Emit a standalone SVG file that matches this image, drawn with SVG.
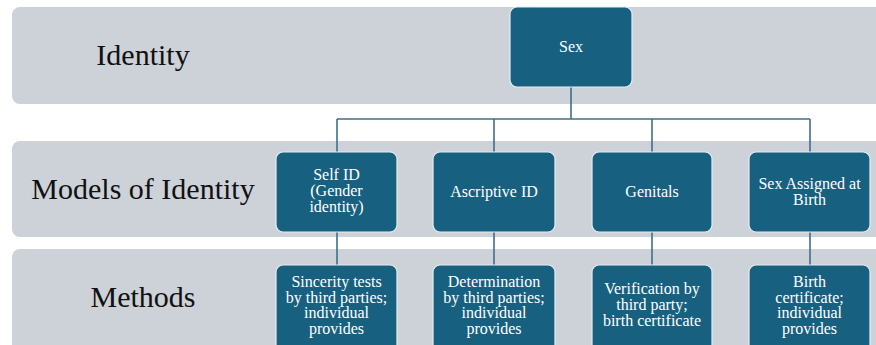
<svg xmlns="http://www.w3.org/2000/svg" width="876" height="345" viewBox="0 0 876 345">
  <style>
    .band { fill: #cdd1d8; }
    .label { font-size: 30px; fill: #111111; text-anchor: middle; }
    .node rect { fill: #17607f; stroke: #e6edf1; stroke-width: 1.2; }
    .node text { font-size: 16px; fill: #ffffff; text-anchor: middle; }
    .conn { fill: none; stroke: #3f6f89; stroke-width: 1.6; }
  </style>

  <g font-family="'Liberation Serif', 'Times New Roman', Times, serif">
  <!-- background bands -->
  <g id="bands">
    <rect class="band" x="12" y="7" width="880" height="97" rx="8"/>
    <rect class="band" x="12" y="141" width="880" height="96" rx="8"/>
    <rect class="band" x="12" y="249" width="880" height="110" rx="8"/>
    <text class="label" x="143" y="65">Identity</text>
    <text class="label" x="143" y="199">Models of Identity</text>
    <text class="label" x="143" y="307">Methods</text>
  </g>

  <!-- connectors -->
  <g id="connectors">
    <path class="conn" d="M571 87 V119 M337 119 H810 M337 119 V152 M494 119 V152 M652 119 V152 M810 119 V152"/>
    <path class="conn" d="M337 232 V265 M494 232 V265 M652 232 V265 M810 232 V265"/>
  </g>

  <!-- top -->
  <g id="sex" class="node">
    <rect x="510" y="7" width="122" height="80" rx="7"/>
    <text x="571" y="52">Sex</text>
  </g>

  <!-- models of identity -->
  <g id="self-id" class="node">
    <rect x="276" y="152" width="121" height="80" rx="7"/>
    <text x="336.5" y="180">Self ID</text>
    <text x="336.5" y="196">(Gender</text>
    <text x="336.5" y="212">identity)</text>
  </g>
  <g id="ascriptive-id" class="node">
    <rect x="433" y="152" width="122" height="80" rx="7"/>
    <text x="494" y="197">Ascriptive ID</text>
  </g>
  <g id="genitals" class="node">
    <rect x="592" y="152" width="120" height="80" rx="7"/>
    <text x="652" y="197">Genitals</text>
  </g>
  <g id="sex-assigned" class="node">
    <rect x="749" y="152" width="121" height="80" rx="7"/>
    <text x="809.5" y="189">Sex Assigned at</text>
    <text x="809.5" y="205">Birth</text>
  </g>

  <!-- methods -->
  <g id="sincerity" class="node">
    <rect x="276" y="265" width="121" height="88" rx="7"/>
    <text x="336.5" y="287">Sincerity tests</text>
    <text x="336.5" y="302.5">by third parties;</text>
    <text x="336.5" y="318">individual</text>
    <text x="336.5" y="333.5">provides</text>
  </g>
  <g id="determination" class="node">
    <rect x="433" y="265" width="122" height="88" rx="7"/>
    <text x="494" y="287">Determination</text>
    <text x="494" y="302.5">by third parties;</text>
    <text x="494" y="318">individual</text>
    <text x="494" y="333.5">provides</text>
  </g>
  <g id="verification" class="node">
    <rect x="592" y="265" width="120" height="88" rx="7"/>
    <text x="652" y="294">Verification by</text>
    <text x="652" y="310">third party;</text>
    <text x="652" y="326">birth certificate</text>
  </g>
  <g id="birth-certificate" class="node">
    <rect x="749" y="265" width="121" height="88" rx="7"/>
    <text x="809.5" y="287">Birth</text>
    <text x="809.5" y="302.5">certificate;</text>
    <text x="809.5" y="318">individual</text>
    <text x="809.5" y="333.5">provides</text>
  </g>
  </g>
</svg>
